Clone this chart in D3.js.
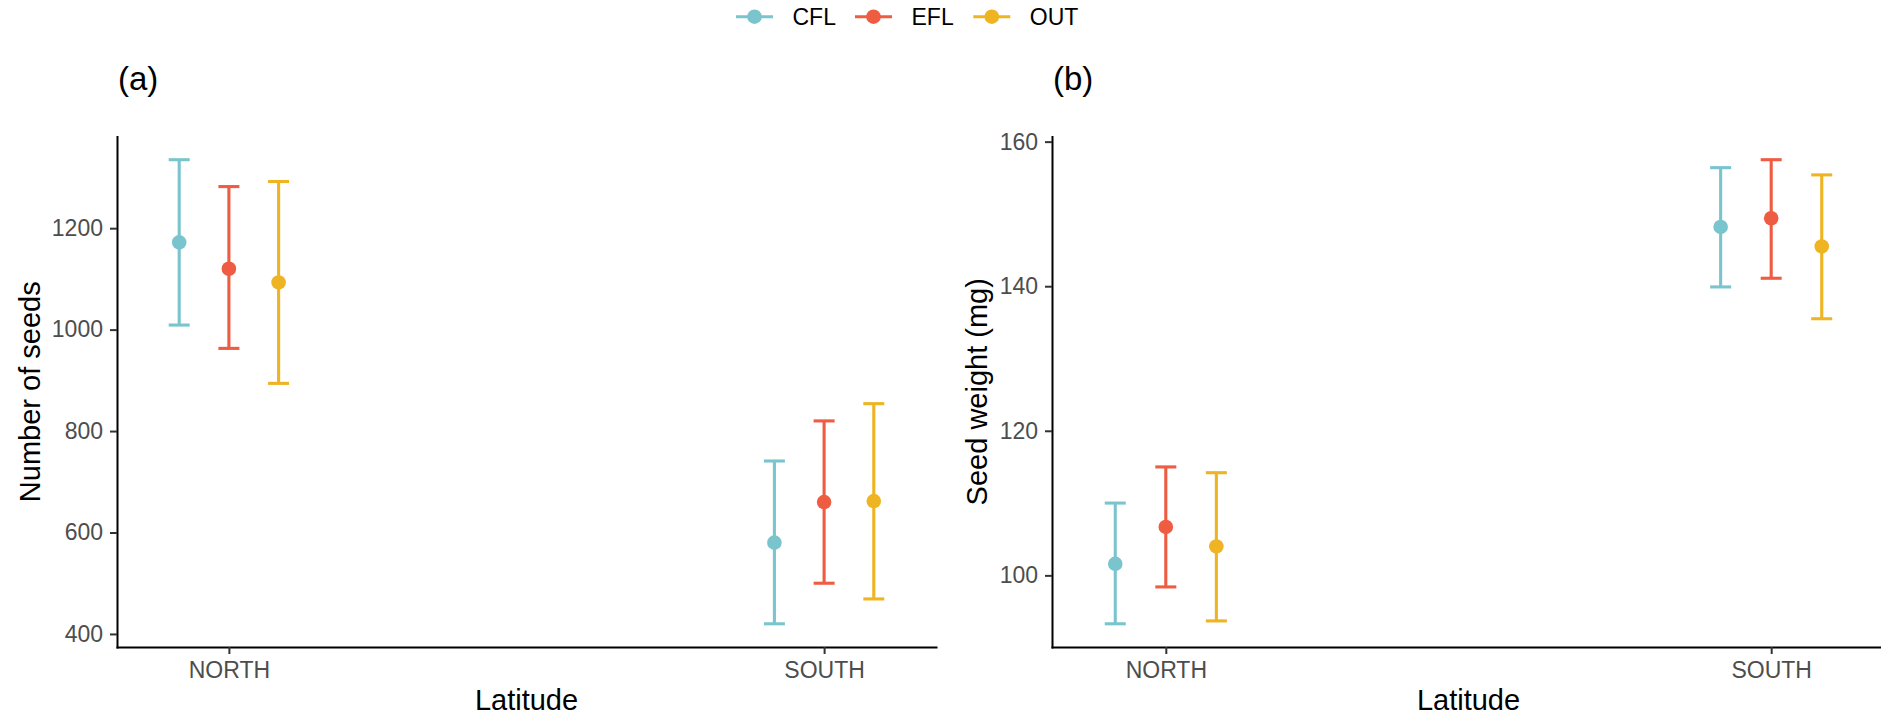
<!DOCTYPE html>
<html>
<head>
<meta charset="utf-8">
<script src="https://cdn.jsdelivr.net/npm/d3@7"></script>
<style>
  html, body { margin: 0; padding: 0; background: #ffffff; }
  svg { display: block; font-family: "Liberation Sans", Arial, sans-serif; }
</style>
</head>
<body>
<svg id="chart" width="1881" height="716"></svg>
<script>
// ---------------- data ----------------
const latitudes  = ["NORTH", "SOUTH"];
const treatments = ["CFL", "EFL", "OUT"];
const treatmentColors = ["#7AC5CD", "#EE5C42", "#EEB422"];

// values indexed [latitude][treatment]
const seedsMean  = [[1172, 1120, 1093], [580, 660, 662]];
const seedsLower = [[1009, 963, 894],   [420, 500, 469]];
const seedsUpper = [[1335, 1282, 1292], [741, 820, 854]];

const weightMean  = [[101.6, 106.7, 104.0], [148.2, 149.4, 145.5]];
const weightLower = [[93.3, 98.4, 93.7],    [139.9, 141.1, 135.5]];
const weightUpper = [[110.0, 115.0, 114.2], [156.4, 157.5, 155.4]];

const seedsTicks  = [400, 600, 800, 1000, 1200];
const weightTicks = [100, 120, 140, 160];

const panelLabels = ["(a)", "(b)"];
const yTitles = ["Number of seeds", "Seed weight (mg)"];
const xTitle = "Latitude";

// ---------------- layout ----------------
const svg = d3.select("#chart");
const plotTop = 136.5, plotBottom = 647;
const panels = [
  { left: 117,  right: 936,  mean: seedsMean,  lower: seedsLower, upper: seedsUpper, ticks: seedsTicks, titleX: 40 },
  { left: 1052, right: 1885, mean: weightMean, lower: weightLower, upper: weightUpper, ticks: weightTicks, titleX: 987 }
];
const dodge = 0.0835;     // in category-step units
const capHalf = 10.5;
const lineW = 3.1;
const pointR = 7.3;

panels.forEach((p, pi) => {
  const g = svg.append("g");
  const x = d3.scalePoint().domain(latitudes).range([p.left, p.right]).padding(0.188);
  const step = x.step();

  const lo = d3.min(p.lower.flat()), hi = d3.max(p.upper.flat());
  const pad = (hi - lo) * 0.05;
  const y = d3.scaleLinear().domain([lo - pad, hi + pad]).range([plotBottom, plotTop]);

  const recs = [];
  latitudes.forEach((lat, li) => {
    treatments.forEach((t, ti) => {
      recs.push({ lat, ti, m: p.mean[li][ti], l: p.lower[li][ti], u: p.upper[li][ti],
                  cx: x(lat) + (ti - 1) * dodge * step });
    });
  });

  // axes
  const yAxis = g.append("g").attr("transform", `translate(${p.left},0)`)
    .call(d3.axisLeft(y).tickValues(p.ticks).tickFormat(d3.format("d"))
      .tickSizeInner(7).tickSizeOuter(0).tickPadding(7));
  const xAxis = g.append("g").attr("transform", `translate(0,${plotBottom})`)
    .call(d3.axisBottom(x).tickSizeInner(7).tickSizeOuter(0).tickPadding(8));
  [yAxis, xAxis].forEach(a => {
    a.select(".domain").attr("stroke", "#000").attr("stroke-width", 2).attr("stroke-linecap", "square");
    a.selectAll(".tick line").attr("stroke", "#333333").attr("stroke-width", 2);
    a.selectAll(".tick text").attr("fill", "#4D4D4D").style("font-size", "23px")
      .style("font-family", "'Liberation Sans', Arial, sans-serif");
  });

  // error bars
  const eb = g.append("g");
  recs.forEach(r => {
    const c = treatmentColors[r.ti];
    eb.append("line").attr("x1", r.cx).attr("x2", r.cx).attr("y1", y(r.l)).attr("y2", y(r.u))
      .attr("stroke", c).attr("stroke-width", lineW);
    eb.append("line").attr("x1", r.cx - capHalf).attr("x2", r.cx + capHalf).attr("y1", y(r.u)).attr("y2", y(r.u))
      .attr("stroke", c).attr("stroke-width", lineW);
    eb.append("line").attr("x1", r.cx - capHalf).attr("x2", r.cx + capHalf).attr("y1", y(r.l)).attr("y2", y(r.l))
      .attr("stroke", c).attr("stroke-width", lineW);
  });
  g.append("g").selectAll("circle").data(recs).join("circle")
    .attr("cx", d => d.cx).attr("cy", d => y(d.m)).attr("r", pointR)
    .attr("fill", d => treatmentColors[d.ti]);

  // titles
  g.append("text").attr("x", p.left + 1).attr("y", 89.5).attr("font-size", 33).attr("fill", "#000")
    .text(panelLabels[pi]);
  g.append("text").attr("x", (p.left + p.right) / 2).attr("y", 710).attr("text-anchor", "middle")
    .attr("font-size", 29).attr("fill", "#000").text(xTitle);
  const yCenter = (plotTop + plotBottom) / 2;
  g.append("text").attr("transform", `translate(${p.titleX},${yCenter}) rotate(-90)`)
    .attr("text-anchor", "middle").attr("font-size", 29).attr("fill", "#000").text(yTitles[pi]);
});

// ---------------- legend ----------------
const legend = svg.append("g");
const legendKeyX = [736, 855, 973.3];
treatments.forEach((t, i) => {
  const kx = legendKeyX[i], ky = 16.7;
  legend.append("line").attr("x1", kx).attr("x2", kx + 37).attr("y1", ky).attr("y2", ky)
    .attr("stroke", treatmentColors[i]).attr("stroke-width", lineW);
  legend.append("circle").attr("cx", kx + 18.5).attr("cy", ky).attr("r", pointR).attr("fill", treatmentColors[i]);
  legend.append("text").attr("x", kx + 56.5).attr("y", 25).attr("font-size", 23).attr("fill", "#000").text(t);
});
</script>
</body>
</html>
